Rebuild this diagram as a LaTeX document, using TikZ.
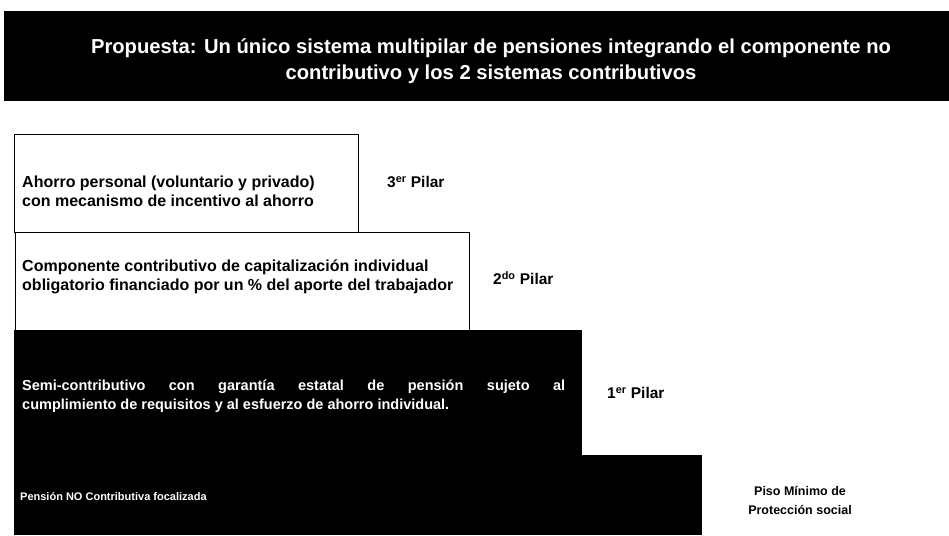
\documentclass[tikz,border=0pt]{standalone}
\usepackage{fontspec}
\setmainfont{Liberation Sans}
\begin{document}
\begin{tikzpicture}[x=1pt, y=-1pt,
	caja/.style={thick, draw=black, fill=white},
	texto/.style={anchor=west, align=left, inner sep=0pt, font=\bfseries\fontsize{16}{19}\selectfont},
	pilar/.style={anchor=west, inner sep=0pt, font=\bfseries\fontsize{15.5}{16}\selectfont}]
	\useasboundingbox (0,0) rectangle (949,535);
	% Titulo
	\fill[black] (4,11) rectangle (949,101);
	\node[text=white, align=center, font=\bfseries\fontsize{20.2}{26}\selectfont] (titulo) at (491,61)
		{Propuesta: Un único sistema multipilar de pensiones integrando el componente no\\contributivo y los 2 sistemas contributivos};
	% 3er Pilar
	\filldraw[caja] (14,134) rectangle (358,232);
	\node[texto] (ahorro) at (22,191) {Ahorro personal (voluntario y privado)\\con mecanismo de incentivo al ahorro};
	\node[pilar] (pilar3) at (387,182) {3\textsuperscript{er} Pilar};
	% 2do Pilar
	\filldraw[caja] (15,232) rectangle (469,330);
	\node[texto] (capital) at (22,277) {Componente contributivo de capitalización individual\\obligatorio financiado por un \% del aporte del trabajador};
	\node[pilar] (pilar2) at (493,278) {2\textsuperscript{do} Pilar};
	% 1er Pilar
	\fill[black] (14,330) rectangle (582,455);
	\node[texto, text=white, text width=543pt, align=justify, font=\bfseries\fontsize{14.5}{19}\selectfont] (semi) at (22,396)
		{Semi-contributivo con garantía estatal de pensión sujeto al\linebreak cumplimiento de requisitos y al esfuerzo de ahorro individual.};
	\node[pilar] (pilar1) at (607,393) {1\textsuperscript{er} Pilar};
	% Piso minimo
	\fill[black] (14,455) rectangle (702,535);
	\node[texto, text=white, font=\bfseries\fontsize{11}{13}\selectfont] (noContrib) at (20,497) {Pensión NO Contributiva focalizada};
	\node[align=center, inner sep=0pt, font=\bfseries\fontsize{12.5}{19}\selectfont] (piso) at (800,500) {Piso Mínimo de\\Protección social};
\end{tikzpicture}
\end{document}
